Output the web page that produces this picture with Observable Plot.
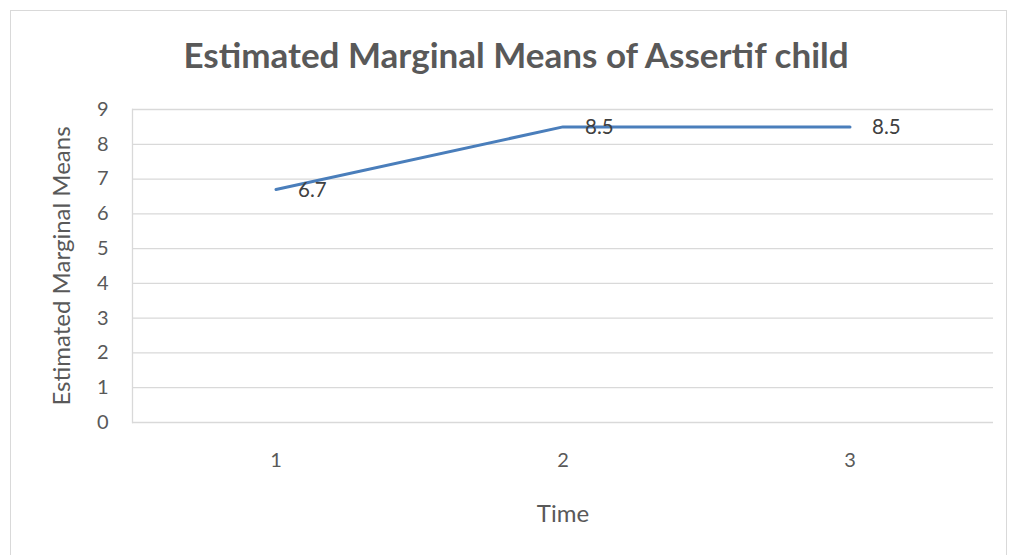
<!DOCTYPE html>
<html><head><meta charset="utf-8">
<script src="https://cdn.jsdelivr.net/npm/d3@7"></script>
<script src="https://cdn.jsdelivr.net/npm/@observablehq/plot@0.6"></script>
<style>
body{margin:0;background:#fff;font-family:Lato,"Open Sans",sans-serif;}
#wrap{position:relative;width:1011px;height:555px;overflow:hidden;}
#border{position:absolute;left:10px;top:10px;width:997px;height:580px;border:1px solid #d9d9d9;box-sizing:border-box;}
#title{position:absolute;left:0;top:34px;width:1032px;text-align:center;font-weight:bold;font-size:35px;line-height:40px;color:#595959;}
#chart{position:absolute;left:0;top:0;}
</style></head>
<body><div id="wrap"><div id="border"></div><div id="chart"></div><div id="title">Estimated Marginal Means of Assertif child</div></div>
<script>
const times = ["1","2","3"];
const means = [6.7, 8.5, 8.5];
const labels = ["6.7","8.5","8.5"];
const yTicks = [0,1,2,3,4,5,6,7,8,9];
const yTitle = "Estimated Marginal Means";
const xTitle = "Time";
const data = times.map((t,i)=>({time:t, mean:means[i], label:labels[i]}));

const chart = Plot.plot({
  width: 1011, height: 555,
  marginLeft: 132, marginRight: 18, marginTop: 109, marginBottom: 133,
  style: {fontFamily: "Lato, 'Open Sans', sans-serif", fontSize: "20px", color: "#595959", background: "transparent"},
  x: {type: "band", domain: times, padding: 0},
  y: {domain: [0, 9]},
  marks: [
    Plot.gridY(yTicks, {stroke: "#d9d9d9", strokeOpacity: 1, strokeWidth: 1.3}),
    Plot.frame({anchor: "left", stroke: "#d9d9d9", strokeWidth: 1.3}),
    Plot.axisY(yTicks, {tickSize: 0, tickPadding: 24, label: null, fontSize: 20}),
    Plot.axisX({tickSize: 0, tickPadding: 30, label: null, fontSize: 20}),
    Plot.text([yTitle], {frameAnchor: "left", text: d => d, rotate: -90, dx: -70, textAnchor: "middle", fill: "#595959", fontSize: 24, lineAnchor: "middle"}),
    Plot.text([xTitle], {frameAnchor: "bottom", text: d => d, dy: 92, fill: "#595959", fontSize: 24, lineAnchor: "middle"}),
    Plot.line(data, {x: "time", y: "mean", stroke: "#4a7ebb", strokeWidth: 3}),
    Plot.text(data, {x: "time", y: "mean", text: "label", textAnchor: "start", dx: 22, dy: 1, fill: "#404040", fontSize: 20.5})
  ]
});
document.getElementById("chart").appendChild(chart);
</script></body></html>
